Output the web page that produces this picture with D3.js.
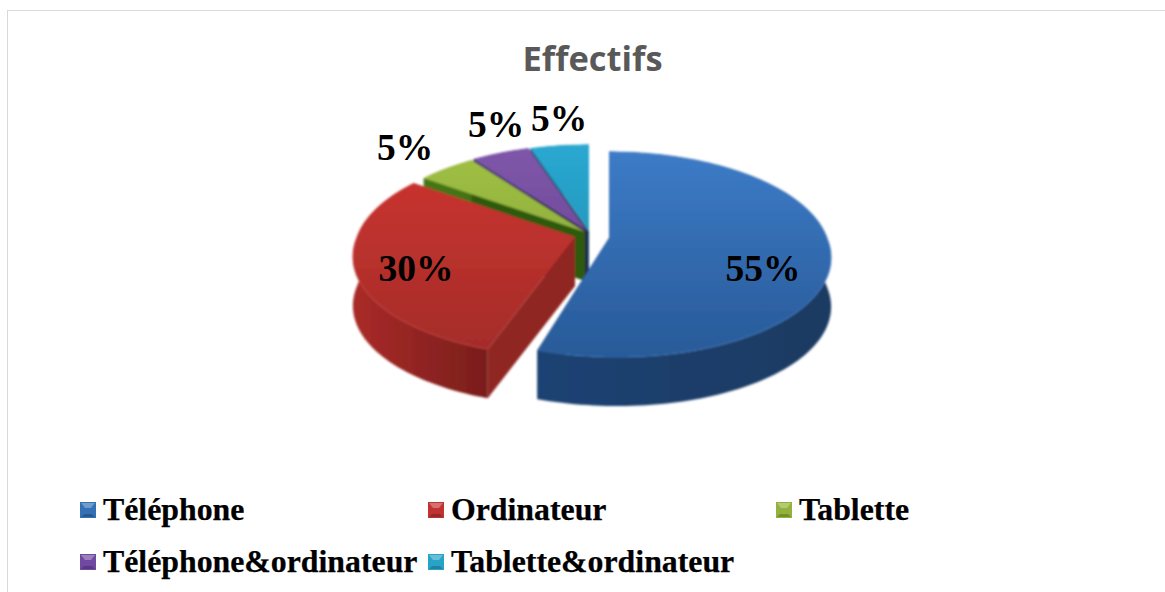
<!DOCTYPE html>
<html><head><meta charset="utf-8">
<script src="https://cdn.jsdelivr.net/npm/d3@7/dist/d3.min.js"></script>
<style>html,body{margin:0;padding:0;background:#fff;overflow:hidden}svg{display:block}</style>
</head><body><svg id="c" width="1165" height="592"></svg>
<script>
const title = "Effectifs";
const categories = ["Téléphone","Ordinateur","Tablette","Téléphone&ordinateur","Tablette&ordinateur"];
const values = [55,30,5,5,5];
const labels = ["55%","30%","5%","5%","5%"];
const topLight = ["#3d7cc8","#cf3530","#a2c145","#8057ab","#2aa9d2"];
const topDark  = ["#285a98","#a32c2a","#7f9f36","#5f3f8a","#1f85a6"];
const sideLight= ["#24508a","#97272a","#4a7a18","#4a3078","#1a6c8c"];
const sideDark = ["#162f50","#701c1a","#2f5a0c","#2c1b4d","#0e3f58"];
const legendMark=["#3470b4","#bf3431","#92b23c","#7049a0","#27a3c8"];

// geometry of the perspective pie
const RX=218, RY=100, P=0.16, DEPTH=49;
const apexes=[[609,238],[575,237],[585,232],[587,231],[589,231]];
const shears=[0.07,-0.07,0,0,0];
const labelPos=[[763,281],[416,281],[405,160],[496,137],[559,131]];
const legendPos=[[80,520],[428,520],[776,520],[80,572],[428,572]];

const svg=d3.select("#c");
const defs=svg.append("defs");
defs.append("filter").attr("id","soft").attr("x","-5%").attr("y","-5%").attr("width","110%").attr("height","110%")
  .append("feGaussianBlur").attr("stdDeviation",0.8);

svg.append("rect").attr("x",7.5).attr("y",10.5).attr("width",1175).attr("height",600)
  .attr("fill","#fff").attr("stroke","#d9d9d9");

svg.append("text").attr("x",592.5).attr("y",71).attr("text-anchor","middle")
  .attr("font-family","'Open Sans',sans-serif").attr("font-weight",700).attr("font-size",34.5)
  .attr("fill","#595959").text(title);

const pie=d3.pie().sort(null).value(d=>d)(values);
const line=d3.line();
function proj(i,t,z){
  const a=apexes[i], u=Math.sin(t), v=-Math.cos(t), s=1/(1-P*v);
  const dy=RY*v*s;
  return [a[0]+RX*u*s+shears[i]*Math.max(dy,0), a[1]+dy+z];
}
function arcPts(i,t0,t1,z){
  const n=Math.max(6,Math.ceil((t1-t0)*40));
  return d3.range(n+1).map(k=>proj(i,t0+(t1-t0)*k/n,z));
}
function grad(id,x1,y1,x2,y2,c1,c2){
  const g=defs.append("linearGradient").attr("id",id).attr("gradientUnits","userSpaceOnUse")
    .attr("x1",x1).attr("y1",y1).attr("x2",x2).attr("y2",y2);
  g.append("stop").attr("offset",0).attr("stop-color",c1);
  g.append("stop").attr("offset",1).attr("stop-color",c2);
}
const gp=svg.append("g").attr("filter","url(#soft)");
// paint back slices first, the two large ones last
[4,3,2,1,0].forEach(i=>{
  const d=pie[i], a=apexes[i], t0=d.startAngle, t1=d.endAngle;
  grad("top"+i,0,a[1]-90,0,a[1]+120,topLight[i],topDark[i]);
  grad("side"+i,a[0]-RX,0,a[0]+RX,0,sideLight[i],sideDark[i]);
  const top=arcPts(i,t0,t1,0), bot=arcPts(i,t0,t1,DEPTH);
  const az=[a[0],a[1]+DEPTH];
  [t0,t1].forEach(t=>{
    gp.append("path").attr("d",line([a,proj(i,t,0),proj(i,t,DEPTH),az])+"Z")
      .attr("fill",i===1?"#8f2523":sideDark[i]);
  });
  if(i===1) grad("sideR",a[0]-RX,0,a[0]-60,0,"#a82a28","#6f1b19");
  if(i===0) grad("sideB",a[0]-80,0,a[0]+RX,0,"#1e4374","#1b3a62");
  gp.append("path").attr("d",line(top.concat(bot.slice().reverse()))+"Z")
    .attr("fill",i===0?"url(#sideB)":i===1?"url(#sideR)":`url(#side${i})`);
  gp.append("path").attr("d",line([a].concat(top))+"Z").attr("fill",`url(#top${i})`);
  gp.append("path").attr("d",line(top)).attr("fill","none")
    .attr("stroke",topLight[i]).attr("stroke-width",1).attr("opacity",0.5);
});

svg.selectAll("text.lab").data(labels).enter().append("text").attr("class","lab")
  .attr("x",(d,i)=>labelPos[i][0]).attr("y",(d,i)=>labelPos[i][1])
  .attr("text-anchor","middle").attr("font-family","'Liberation Serif',serif")
  .attr("font-weight",700).attr("font-size",37.5).attr("fill","#000").text(d=>d);

const lg=svg.selectAll("g.leg").data(categories).enter().append("g").attr("class","leg")
  .attr("transform",(d,i)=>`translate(${legendPos[i][0]},${legendPos[i][1]})`);
lg.append("rect").attr("x",0).attr("y",-18).attr("width",16).attr("height",16)
  .attr("fill",(d,i)=>legendMark[i]);
lg.append("path").attr("d","M1,-17H15L11,-12H5Z").attr("fill","#fff").attr("opacity",0.3);
lg.append("path").attr("d","M1,-3H15L12,-6H4Z").attr("fill","#000").attr("opacity",0.2);
lg.append("text").attr("x",23).attr("y",0).attr("font-family","'Liberation Serif',serif")
  .attr("font-weight",700).attr("font-size",31.8).attr("fill","#000")
  .attr("stroke","#000").attr("stroke-width",0.25).text(d=>d);
</script></body></html>
